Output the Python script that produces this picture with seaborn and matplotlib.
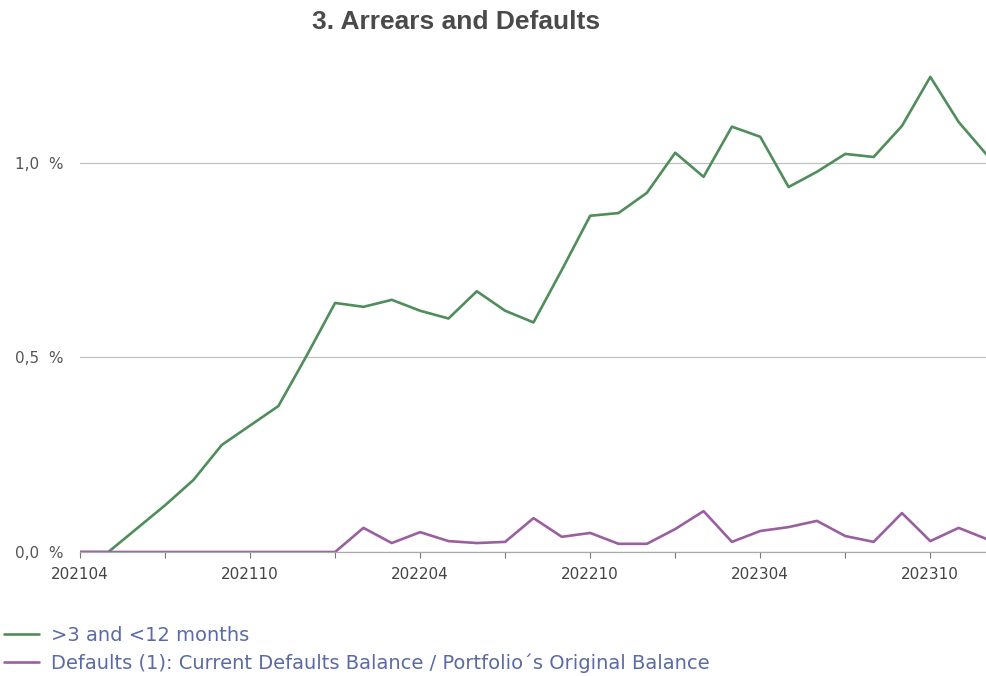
import pandas as pd
import seaborn as sns
import matplotlib.pyplot as plt

# monthly reporting periods
months = ['202104', '202105', '202106', '202107', '202108', '202109', '202110', '202111', '202112',
          '202201', '202202', '202203', '202204', '202205', '202206', '202207', '202208', '202209',
          '202210', '202211', '202212',
          '202301', '202302', '202303', '202304', '202305', '202306', '202307', '202308', '202309',
          '202310', '202311', '202312']

# arrears >3 and <12 months (% of balance)
arrears_3_12 = [0.0, 0.0, 0.06, 0.12, 0.185, 0.275, 0.325, 0.375, 0.505,
                0.64, 0.63, 0.648, 0.62, 0.60, 0.67, 0.62, 0.59, 0.725, 0.864, 0.871, 0.923,
                1.026, 0.964, 1.093, 1.067, 0.938, 0.977, 1.023, 1.015, 1.095, 1.221, 1.105, 1.02]

# defaults / original balance (%)
defaults = [0.0, 0.0, 0.0, 0.0, 0.0, 0.0, 0.0, 0.0, 0.0,
            0.0, 0.062, 0.023, 0.051, 0.028, 0.023, 0.026, 0.087, 0.039, 0.049, 0.021, 0.021,
            0.059, 0.105, 0.026, 0.054, 0.064, 0.080, 0.041, 0.026, 0.10, 0.028, 0.062, 0.033]

labels = ['>3 and <12 months',
          'Defaults (1): Current Defaults Balance / Portfolio\u00b4s Original Balance']

df = pd.DataFrame({'month': months, 'arrears': arrears_3_12, 'defaults': defaults})
df['pos'] = range(len(df))

sns.set_style('white')
plt.rcParams['font.family'] = ['DejaVu Sans']

fig = plt.figure(figsize=(9.87, 6.76), dpi=100)
ax = fig.add_axes([80 / 987, 1 - 552 / 676, 907 / 987, 502 / 676])

sns.lineplot(data=df, x='pos', y='arrears', color='#4f8d5b', lw=1.9, label=labels[0], ax=ax)
sns.lineplot(data=df, x='pos', y='defaults', color='#9a5fa1', lw=1.9, label=labels[1], ax=ax)

ax.set_xlim(0, 32)
ax.set_ylim(0, 1.29)

# x axis: ticks every 3 months, labels every 6
ax.set_xticks(range(0, 33, 6))
ax.set_xticklabels([months[i] for i in range(0, 33, 6)], fontsize=11, color='#444444')
ax.set_xticks(range(3, 33, 6), minor=True)
ax.tick_params(axis='x', which='both', length=4, width=0.8, color='#777777', pad=7, direction='out')
ax.tick_params(axis='x', which='both', bottom=True)

# y axis
ax.set_yticks([0, 0.5, 1.0])
ax.set_yticklabels(['0,0  %', '0,5  %', '1,0  %'], fontsize=11, color='#555555')
ax.tick_params(axis='y', length=0, pad=12)
ax.yaxis.grid(True, color='#c0c0c0', lw=0.9)
ax.set_axisbelow(True)

for s in ['top', 'right', 'left']:
    ax.spines[s].set_visible(False)
ax.spines['bottom'].set_color('#aaaaaa')
ax.spines['bottom'].set_linewidth(0.9)

ax.set_xlabel('')
ax.set_ylabel('')

handles, labs = ax.get_legend_handles_labels()
ax.get_legend().remove()
fig.legend(handles, labs, loc='upper left', bbox_to_anchor=(0.004, 1 - 626 / 676),
           frameon=False, fontsize=14, labelcolor='#5a6aa6', handlelength=1.8,
           handletextpad=0.6, labelspacing=0.42, borderaxespad=0, borderpad=0)

fig.text(456 / 987, 1 - 22 / 676, '3. Arrears and Defaults', ha='center', va='center',
         fontsize=19, fontweight='bold', color='#4a4a4a', family='Liberation Sans')

fig.savefig('out.png', dpi=100)
